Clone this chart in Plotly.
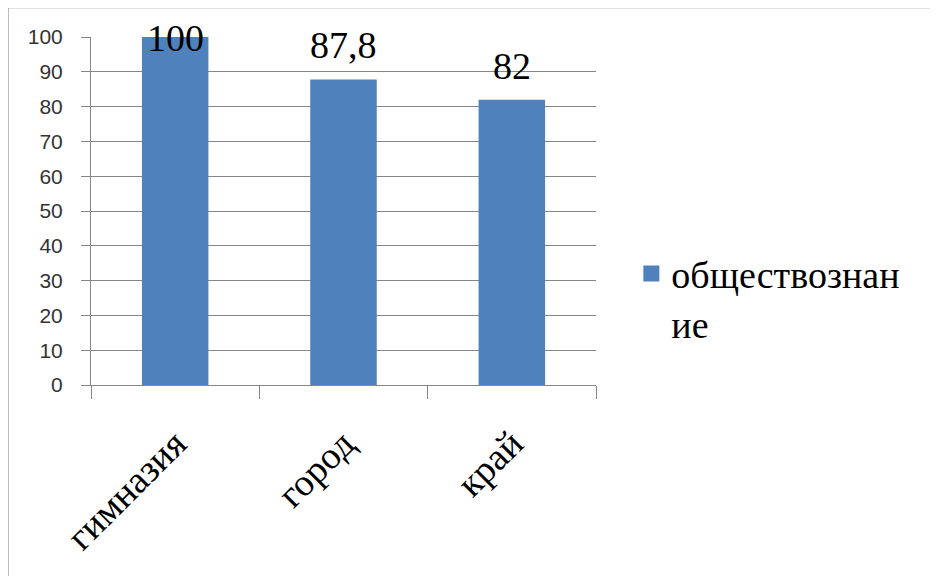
import plotly.graph_objects as go

categories = ["гимназия", "город", "край"]
values = [100, 87.8, 82]
value_labels = ["100", "87,8", "82"]
series_name = "обществознан<br>ие"
y_ticks = [0, 10, 20, 30, 40, 50, 60, 70, 80, 90, 100]

BAR = "#4F81BD"
SERIF = "Liberation Serif"
SANS = "Liberation Sans"

fig = go.Figure()
fig.add_trace(go.Bar(
    x=categories, y=values, marker=dict(color=BAR, line=dict(width=0)),
    width=0.395, showlegend=False, name=series_name,
))
fig.add_trace(go.Scatter(
    x=[None], y=[None], mode="markers", name=series_name,
    marker=dict(symbol="square", size=20, color=BAR),
))

for c, v, t in zip(categories, values, value_labels):
    fig.add_annotation(
        x=c, y=v, xref="x", yref="y", text=t, showarrow=False,
        yanchor="bottom", yshift=(11 if v < 95 else -24),
        font=dict(family=SERIF, size=38, color="#000000"),
    )

fig.add_shape(type="rect", xref="paper", yref="paper",
              x0=-0.1644, x1=1.675, y0=-0.6, y1=1.0844,
              line=dict(color="#8c8c8c", width=1.2), layer="below")

fig.update_layout(
    width=938, height=576,
    margin=dict(l=83, r=350, t=29, b=199),
    font=dict(family=SERIF, color="#000000"),
    paper_bgcolor="white", plot_bgcolor="white",
    showlegend=True,
    legend=dict(x=1.07, y=0.41, xanchor="left", yanchor="top",
                font=dict(family=SERIF, size=38, color="#000000"),
                itemwidth=30, valign="top", bgcolor="rgba(0,0,0,0)"),
    xaxis=dict(
        type="category", tickangle=-45, tickson="boundaries",
        ticks="outside", ticklen=13, tickcolor="#868686", tickwidth=1,
        showline=True, linecolor="#868686", linewidth=1,
        showgrid=False, ticklabelstandoff=20,
        tickfont=dict(family=SERIF, size=38, color="#000000"),
    ),
    yaxis=dict(
        range=[0, 100], tickvals=y_ticks, ticks="outside", ticklen=9,
        tickcolor="#868686", showline=True, linecolor="#868686", linewidth=1,
        showgrid=True, gridcolor="#868686", gridwidth=1,
        zeroline=False, ticklabelstandoff=14,
        tickfont=dict(family=SANS, size=21, color="#333333"),
    ),
)

fig.write_html("out.html")
